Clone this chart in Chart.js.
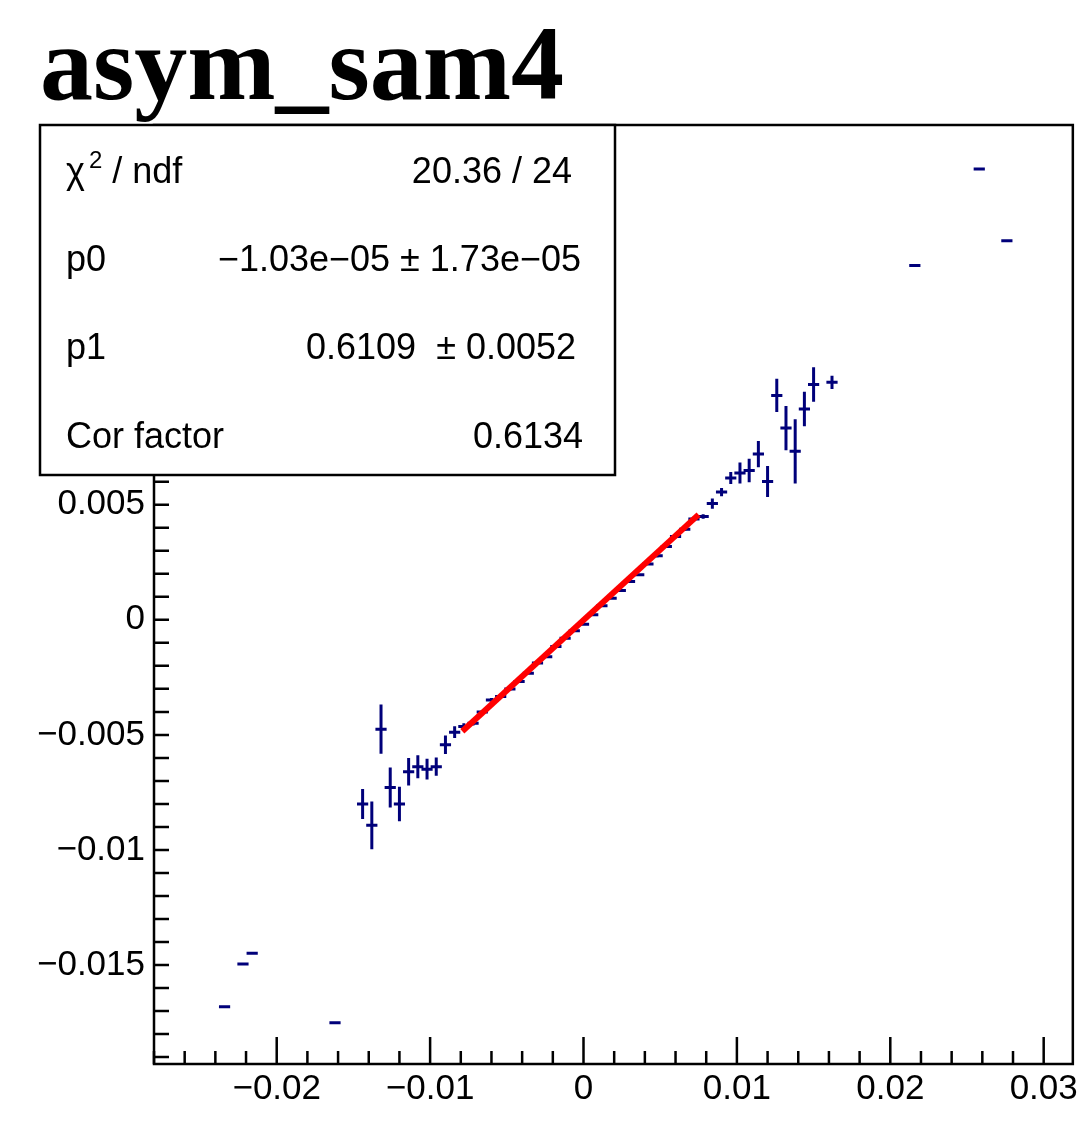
<!DOCTYPE html>
<html>
<head>
<meta charset="utf-8">
<script src="https://cdn.jsdelivr.net/npm/chart.js@4.4.1/dist/chart.umd.min.js"></script>
<style>
  html, body { margin: 0; padding: 0; background: #fff; }
  #wrap { width: 1082px; height: 1133px; position: relative; }
</style>
</head>
<body>
<div id="wrap"><canvas id="asymChart"></canvas></div>
<script>
// profile points (bin centres)
var xValues = [
  -0.0234, -0.0222, -0.0216, -0.0162,
  -0.0144, -0.0138, -0.0132, -0.0126, -0.0120, -0.0114, -0.0108, -0.0102, -0.0096, -0.0090, -0.0084,
  -0.0078, -0.0072, -0.0066, -0.0060, -0.0054, -0.0048, -0.0042, -0.0036, -0.0030, -0.0024, -0.0018, -0.0012, -0.0006,
  0.0000, 0.0006, 0.0012, 0.0018, 0.0024, 0.0030, 0.0036, 0.0042, 0.0048, 0.0054, 0.0060, 0.0066, 0.0072,
  0.0078, 0.0084, 0.0090, 0.0096, 0.0102, 0.0108, 0.0114, 0.0120, 0.0126, 0.0132, 0.0138, 0.0144, 0.0150, 0.0162,
  0.0216, 0.0258, 0.0276
];
var yValues = [
  -0.01681, -0.01496, -0.01449, -0.01751,
  -0.00800, -0.00893, -0.00475, -0.00729, -0.00800, -0.00660, -0.00638, -0.00649, -0.00638, -0.00543, -0.00488,
  -0.00464, -0.00449, -0.00401, -0.00348, -0.00333, -0.00301, -0.00268, -0.00232, -0.00188, -0.00160, -0.00116, -0.00080, -0.00048,
  -0.00019, 0.00022, 0.00061, 0.00094, 0.00127, 0.00167, 0.00196, 0.00243, 0.00278, 0.00319, 0.00362, 0.00394, 0.00438,
  0.00449, 0.00505, 0.00555, 0.00616, 0.00638, 0.00649, 0.00720, 0.00601, 0.00975, 0.00833, 0.00732, 0.00916, 0.01022, 0.01032,
  0.01540, 0.01959, 0.01647
];
var yErrors = [
  0, 0, 0, 0,
  0.00065, 0.00104, 0.00107, 0.00087, 0.00075, 0.00060, 0.00050, 0.00045, 0.00040, 0.00040, 0.00026,
  0.00015, 0.00010, 0.00008, 0.00008, 0.00007, 0.00007, 0.00006, 0.00006, 0.00006, 0.00005, 0.00005, 0.00005, 0.00005,
  0.00005, 0.00005, 0.00005, 0.00005, 0.00005, 0.00006, 0.00006, 0.00006, 0.00007, 0.00007, 0.00008, 0.00008, 0.00010,
  0.00010, 0.00022, 0.00018, 0.00026, 0.00046, 0.00051, 0.00057, 0.00067, 0.00072, 0.00096, 0.00140, 0.00075, 0.00075, 0.00029,
  0, 0, 0
];
var binHalfWidth = 0.0003;

// pol1 fit drawn over the fit range
var fitX = [-0.0079, 0.0075];
var fitY = [-0.00484, 0.00457];

var xMajorTicks = [-0.02, -0.01, 0, 0.01, 0.02, 0.03];
var yMajorTicks = [-0.015, -0.01, -0.005, 0, 0.005, 0.01, 0.015, 0.02];

var titleText = 'asym_sam4';
var statsLabels = ['p0', 'p1', 'Cor factor'];
var statsValues = ['20.36 / 24', '\u22121.03e\u221205 \u00b1 1.73e\u221205', '0.6109  \u00b1 0.0052', '0.6134'];

Chart.defaults.font.family = '"Liberation Sans", Arial, Helvetica, sans-serif';
Chart.defaults.color = '#000';

function fmtTick(v) {
  if (v === 0) return '0';
  return (v < 0 ? '\u2212' : '') + String(Math.abs(v));
}

// ROOT style ticks pointing into the frame
function innerTicks(ctx, scale, step, isX, majorLen, minorLen, area) {
  var minor = step / 5;
  var first = Math.ceil(scale.min / minor - 1e-6);
  var last = Math.floor(scale.max / minor + 1e-6);
  ctx.beginPath();
  for (var i = first; i <= last; i++) {
    var p = scale.getPixelForValue(i * minor);
    var len = (i % 5 === 0) ? majorLen : minorLen;
    if (isX) {
      ctx.moveTo(p, area.bottom);
      ctx.lineTo(p, area.bottom - len);
    } else {
      ctx.moveTo(area.left, p);
      ctx.lineTo(area.left + len, p);
    }
  }
  ctx.stroke();
}

var errorBars = {
  id: 'errorBars',
  beforeDatasetsDraw: function(chart) {
    var ctx = chart.ctx, xs = chart.scales.x, ys = chart.scales.y, area = chart.chartArea;
    var pts = chart.data.datasets[1].data;
    ctx.save();
    ctx.beginPath();
    ctx.rect(area.left, area.top, area.right - area.left, area.bottom - area.top);
    ctx.clip();
    ctx.strokeStyle = '#00007a';
    ctx.lineWidth = 3;
    ctx.beginPath();
    pts.forEach(function(pt, i) {
      var px = xs.getPixelForValue(pt.x), py = ys.getPixelForValue(pt.y);
      ctx.moveTo(xs.getPixelForValue(pt.x - binHalfWidth) - 1, py);
      ctx.lineTo(xs.getPixelForValue(pt.x + binHalfWidth) + 1, py);
      if (yErrors[i] > 0) {
        ctx.moveTo(px, ys.getPixelForValue(pt.y - yErrors[i]));
        ctx.lineTo(px, ys.getPixelForValue(pt.y + yErrors[i]));
      }
    });
    ctx.stroke();
    ctx.restore();
  }
};

var frameAndStats = {
  id: 'frameAndStats',
  afterDraw: function(chart) {
    var ctx = chart.ctx, area = chart.chartArea;
    ctx.save();
    ctx.strokeStyle = '#000';
    ctx.lineWidth = 2.5;
    innerTicks(ctx, chart.scales.x, 0.01, true, 27, 13, area);
    innerTicks(ctx, chart.scales.y, 0.005, false, 15, 15, area);
    ctx.strokeRect(area.left, area.top, area.right - area.left, area.bottom - area.top);

    // stats box
    ctx.fillStyle = '#fff';
    ctx.fillRect(40, 125, 575, 350);
    ctx.strokeRect(40, 125, 575, 350);
    ctx.fillStyle = '#000';
    ctx.font = '36px "Liberation Sans", Arial, sans-serif';
    ctx.textBaseline = 'alphabetic';
    var rows = [183, 271, 359, 448];
    var rights = [572, 581, 576, 583];
    // chi2 / ndf with superscript
    ctx.textAlign = 'left';
    ctx.fillText('\u03c7', 66, rows[0]);
    var w = ctx.measureText('\u03c7').width;
    ctx.font = '24px "Liberation Sans", Arial, sans-serif';
    ctx.fillText('2', 66 + w + 4, rows[0] - 15);
    var w2 = ctx.measureText('2').width;
    ctx.font = '36px "Liberation Sans", Arial, sans-serif';
    ctx.fillText(' / ndf', 66 + w + 4 + w2, rows[0]);
    statsLabels.forEach(function(t, i) { ctx.fillText(t, 66, rows[i + 1]); });
    ctx.textAlign = 'right';
    statsValues.forEach(function(t, i) { ctx.fillText(t, rights[i], rows[i]); });

    // title
    ctx.textAlign = 'left';
    ctx.font = 'bold 106px "Liberation Serif", "Times New Roman", serif';
    ctx.fillText(titleText, 40, 99);
    ctx.restore();
  }
};

var chart = new Chart(document.getElementById('asymChart'), {
  type: 'scatter',
  data: {
    datasets: [{
      label: 'fit',
      data: fitX.map(function(x, i) { return { x: x, y: fitY[i] }; }),
      showLine: true,
      borderColor: '#ff0000',
      borderWidth: 6,
      pointRadius: 0,
      order: 0
    }, {
      label: 'asym',
      data: xValues.map(function(x, i) { return { x: x, y: yValues[i] }; }),
      pointRadius: 0,
      showLine: false,
      order: 1
    }]
  },
  options: {
    responsive: true,
    maintainAspectRatio: false,
    animation: false,
    layout: { padding: { top: 125, right: 8, left: 0, bottom: 0 } },
    plugins: { legend: { display: false }, tooltip: { enabled: false } },
    scales: {
      x: {
        type: 'linear',
        min: -0.028,
        max: 0.0319,
        afterBuildTicks: function(ax) { ax.ticks = xMajorTicks.map(function(v) { return { value: v }; }); },
        afterFit: function(ax) { ax.height = 69; },
        grid: { display: false, drawTicks: false },
        border: { display: false },
        ticks: { padding: 4, autoSkip: false, maxRotation: 0, font: { size: 35 }, callback: fmtTick }
      },
      y: {
        type: 'linear',
        min: -0.0193,
        max: 0.0215,
        afterBuildTicks: function(ax) { ax.ticks = yMajorTicks.map(function(v) { return { value: v }; }); },
        afterFit: function(ax) { ax.width = 154; },
        grid: { display: false, drawTicks: false },
        border: { display: false },
        ticks: { padding: 9, autoSkip: false, font: { size: 35 }, callback: fmtTick }
      }
    }
  },
  plugins: [errorBars, frameAndStats]
});
</script>
</body>
</html>
